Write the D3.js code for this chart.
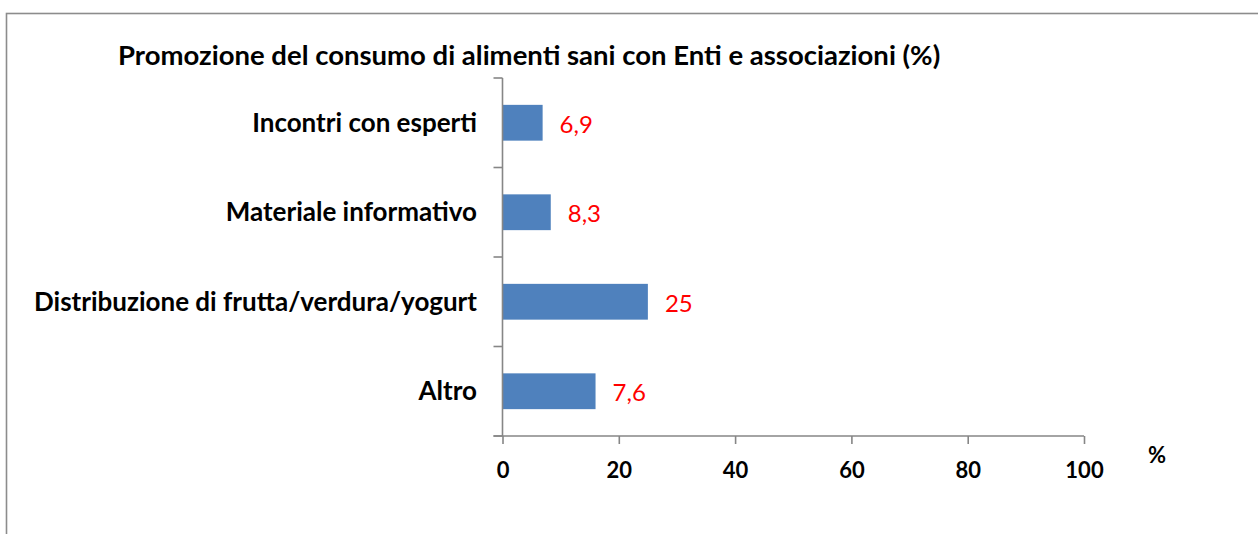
<!DOCTYPE html>
<html>
<head>
<meta charset="utf-8">
<script src="https://cdn.jsdelivr.net/npm/d3@7"></script>
<style>
  html, body { margin: 0; padding: 0; background: #fff; }
  svg { display: block; font-family: Lato, "Open Sans", sans-serif; }
</style>
</head>
<body>
<div id="chart"></div>
<script>
const categories = ["Incontri con esperti", "Materiale informativo", "Distribuzione di frutta/verdura/yogurt", "Altro"];
// bar lengths as drawn (the "Altro" bar is longer than its label says)
const barValues = [6.9, 8.3, 25, 16];
const valueLabels = ["6,9", "8,3", "25", "7,6"];
const xTicks = [0, 20, 40, 60, 80, 100];
const title = "Promozione del consumo di alimenti sani con Enti e associazioni (%)";

const width = 1258, height = 534;
const svg = d3.select("#chart").append("svg")
  .attr("width", width)
  .attr("height", height);

// chart area frame (right and bottom edges fall outside the picture)
svg.append("rect")
  .attr("x", 6.5).attr("y", 13.5)
  .attr("width", 1300).attr("height", 600)
  .attr("fill", "none")
  .attr("stroke", "#8c8c8c")
  .attr("stroke-width", 1.6);

const x = d3.scaleLinear().domain([0, 100]).range([502.5, 1084]);
const y = d3.scaleBand().domain(categories).range([78, 436]).paddingInner(0.6).paddingOuter(0.3);

svg.append("text")
  .attr("x", 118).attr("y", 65)
  .attr("font-size", 27.5)
  .attr("font-weight", 700)
  .attr("fill", "#000")
  .text(title);

// bars
svg.append("g")
  .selectAll("rect")
  .data(categories)
  .join("rect")
  .attr("x", x(0))
  .attr("y", (d) => y(d))
  .attr("width", (d, i) => x(barValues[i]) - x(0))
  .attr("height", y.bandwidth())
  .attr("fill", "#4f81bd");

// value labels
svg.append("g")
  .selectAll("text")
  .data(categories)
  .join("text")
  .attr("x", (d, i) => x(barValues[i]) + 17)
  .attr("y", (d) => y(d) + y.bandwidth() / 2 + 10)
  .attr("font-size", 24)
  .attr("fill", "#ff0000")
  .text((d, i) => valueLabels[i]);

// category labels
svg.append("g")
  .selectAll("text")
  .data(categories)
  .join("text")
  .attr("x", 477)
  .attr("y", (d) => y(d) + y.bandwidth() / 2 + 9)
  .attr("text-anchor", "end")
  .attr("font-size", 26)
  .attr("font-weight", 700)
  .attr("fill", "#000")
  .text((d) => d);

// y axis line with tick marks between categories
const axisColor = "#868686";
const step = y.step();
const boundaries = d3.range(categories.length + 1).map((i) => y.range()[0] + i * step);
svg.append("line")
  .attr("x1", x(0)).attr("x2", x(0))
  .attr("y1", boundaries[0]).attr("y2", boundaries[boundaries.length - 1])
  .attr("stroke", axisColor).attr("stroke-width", 1.6);
svg.append("g")
  .selectAll("line")
  .data(boundaries)
  .join("line")
  .attr("x1", x(0) - 9).attr("x2", x(0))
  .attr("y1", (d) => d).attr("y2", (d) => d)
  .attr("stroke", axisColor).attr("stroke-width", 1.6);

// x axis
const xAxis = svg.append("g")
  .attr("transform", `translate(0,${boundaries[boundaries.length - 1]})`)
  .call(d3.axisBottom(x).tickValues(xTicks).tickSize(8).tickSizeOuter(0).tickPadding(0));
xAxis.select(".domain").attr("stroke", axisColor).attr("stroke-width", 1.6)
  .attr("d", `M${x(0) - 9},0H${x(100)}`);
xAxis.selectAll(".tick line").attr("stroke", axisColor).attr("stroke-width", 1.6);
xAxis.selectAll(".tick text")
  .attr("y", 41.5)
  .attr("dy", null)
  .attr("font-family", "Lato, 'Open Sans', sans-serif")
  .attr("font-size", 22)
  .attr("font-weight", 700)
  .attr("fill", "#000");

svg.append("text")
  .attr("x", 1157).attr("y", 463)
  .attr("text-anchor", "middle")
  .attr("font-size", 22)
  .attr("font-weight", 700)
  .attr("fill", "#000")
  .text("%");
</script>
</body>
</html>
